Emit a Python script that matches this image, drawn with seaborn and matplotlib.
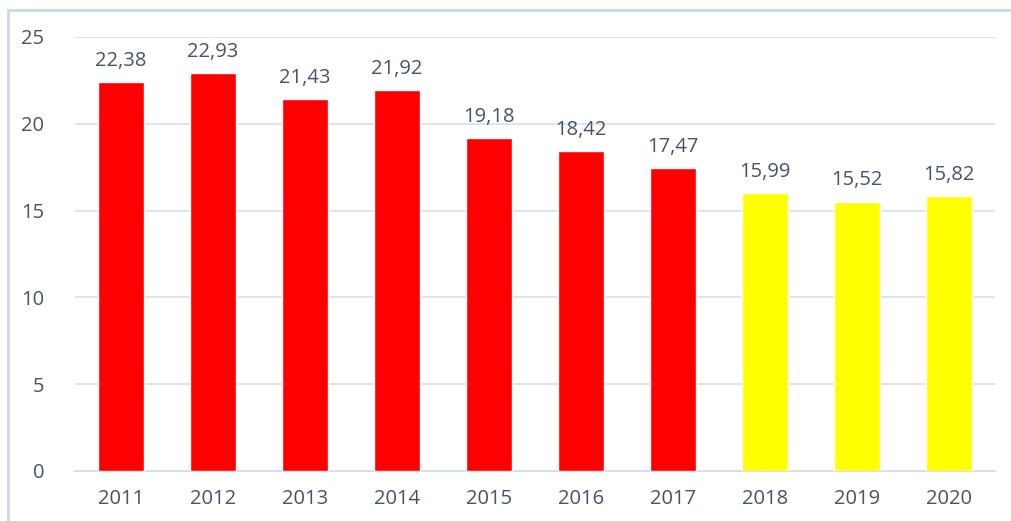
import pandas as pd
import seaborn as sns
import matplotlib.pyplot as plt
from matplotlib.patches import Rectangle

years = ['2011', '2012', '2013', '2014', '2015', '2016', '2017', '2018', '2019', '2020']
values = [22.38, 22.93, 21.43, 21.92, 19.18, 18.42, 17.47, 15.99, 15.52, 15.82]
groups = ['past'] * 7 + ['recent'] * 3

df = pd.DataFrame({'year': years, 'value': values, 'group': groups})

sns.set_style('white')
plt.rcParams['font.family'] = ['Open Sans', 'DejaVu Sans']
text_col = '#44546A'
grid_col = '#D6DFEC'

fig = plt.figure(figsize=(10.11, 5.21), dpi=100)
ax = fig.add_axes([0.074, 0.096, 0.91, 0.833])

sns.barplot(data=df, x='year', y='value', hue='group',
            palette={'past': '#FF0000', 'recent': '#FFFF00'},
            saturation=1, dodge=False, width=0.5, legend=False, ax=ax, zorder=3)

ax.set_ylim(0, 25)
ax.set_xlim(-0.5, 9.5)
ax.set_yticks(range(0, 26, 5))
ax.grid(axis='y', color=grid_col, linewidth=1.2, zorder=0)
ax.set_axisbelow(True)
for s in ['top', 'right', 'left']:
    ax.spines[s].set_visible(False)
ax.spines['bottom'].set_color(grid_col)
ax.spines['bottom'].set_linewidth(1.5)
ax.tick_params(axis='both', length=0, labelsize=14.5, colors=text_col)
ax.tick_params(axis='x', pad=13)
ax.tick_params(axis='y', pad=22)
ax.set_xlabel('')
ax.set_ylabel('')

for i, v in enumerate(values):
    ax.annotate(f'{v:.2f}'.replace('.', ','), (i, v), xytext=(0, 8),
                textcoords='offset points', ha='center', va='bottom',
                fontsize=14.5, color=text_col)

# outer frame: left and top edges only, right edge runs off the image
fig.patches.append(Rectangle((0.008, -0.01), 1.05, 0.99, transform=fig.transFigure,
                             fill=False, edgecolor='#C9D8EE', linewidth=2))

fig.savefig('out.png', dpi=100)
